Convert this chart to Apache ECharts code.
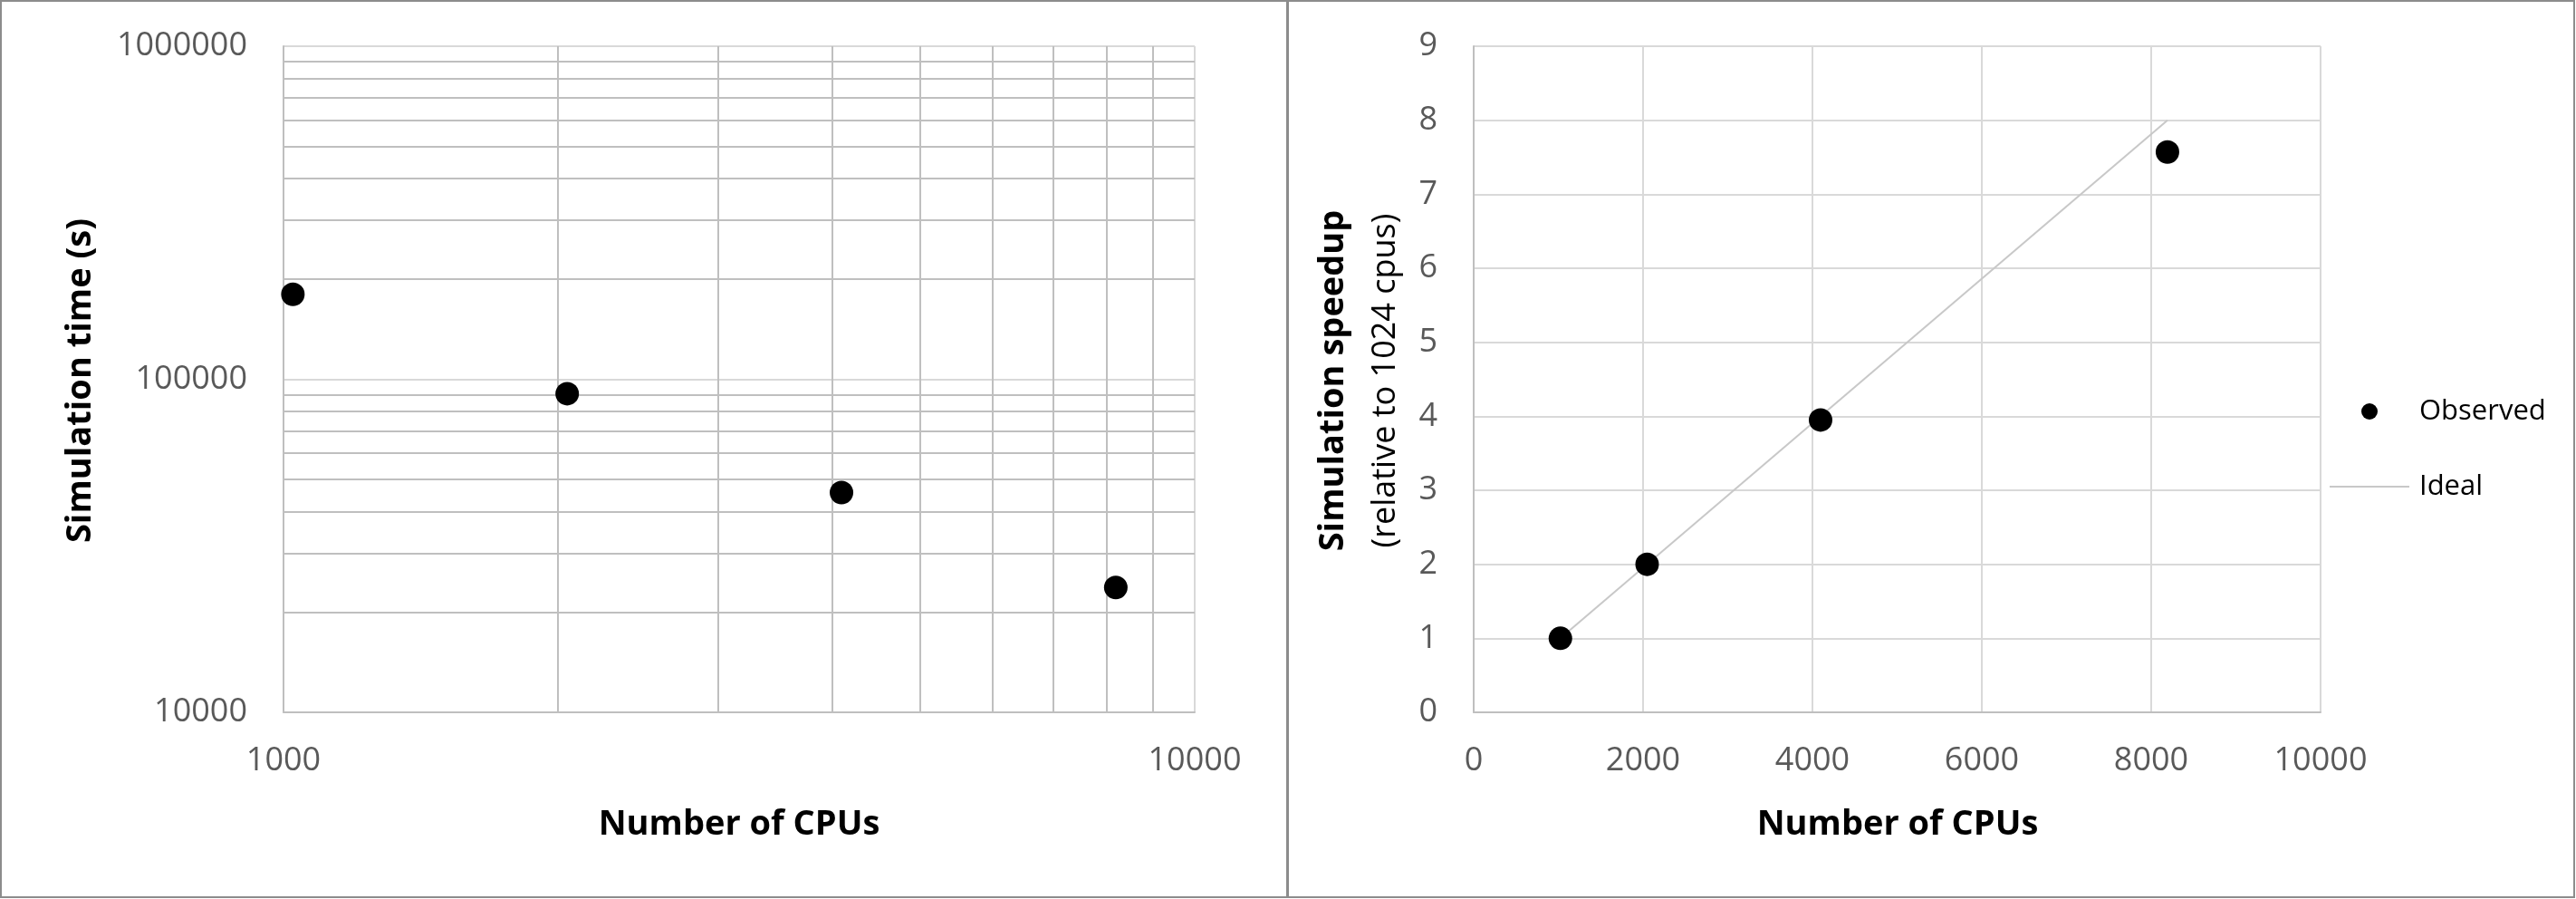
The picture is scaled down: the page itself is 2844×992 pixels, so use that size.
<!DOCTYPE html>
<html>
<head>
<meta charset="utf-8">
<script src="https://cdn.jsdelivr.net/npm/echarts@6/dist/echarts.min.js"></script>
<style>
html,body{margin:0;padding:0;background:#fff;}
#chart{width:2844px;height:992px;}
</style>
</head>
<body>
<div id="chart"></div>
<script>
// ---- data ----
const cpus = [1024, 2048, 4096, 8192];
const simTime = [180000, 90500, 45700, 23700];
const observedSpeedup = [1, 2.0, 3.95, 7.57];
const idealCpus = [1024, 8192];
const idealSpeedup = [1, 8];
// minor log gridline values (left panel)
const minorX = [2000, 3000, 4000, 5000, 6000, 7000, 8000, 9000];
const minorY = [20000, 30000, 40000, 50000, 60000, 70000, 80000, 90000,
                200000, 300000, 400000, 500000, 600000, 700000, 800000, 900000];

const FONT = '"Open Sans", "Noto Sans", sans-serif';
const tickLabel = {fontFamily: FONT, fontSize: 36, color: '#595959'};
const fmt = v => String(Math.round(v));

const chart = echarts.init(document.getElementById('chart'), null, {renderer: 'canvas'});

const minorLines = [];
minorX.forEach(v => minorLines.push({xAxis: v}));
minorY.forEach(v => minorLines.push({yAxis: v}));

const option = {
  animation: false,
  backgroundColor: '#fff',
  grid: [
    {left: 313, top: 51, width: 1006, height: 735, containLabel: false},
    {left: 1627, top: 51, width: 935, height: 735, containLabel: false}
  ],
  xAxis: [
    {
      gridIndex: 0, type: 'log', logBase: 10, min: 1000, max: 10000,
      axisLine: {show: true, lineStyle: {color: '#bfbfbf', width: 2}},
      axisTick: {show: false},
      axisLabel: Object.assign({margin: 36, formatter: fmt, showMinLabel: true, showMaxLabel: true}, tickLabel),
      splitLine: {show: true, lineStyle: {color: '#d9d9d9', width: 2}}
    },
    {
      gridIndex: 1, type: 'value', min: 0, max: 10000, interval: 2000,
      axisLine: {show: true, onZero: false, lineStyle: {color: '#bfbfbf', width: 2}},
      axisTick: {show: false},
      axisLabel: Object.assign({margin: 36, formatter: fmt, showMinLabel: true, showMaxLabel: true}, tickLabel),
      splitLine: {show: true, lineStyle: {color: '#d9d9d9', width: 2}}
    }
  ],
  yAxis: [
    {
      gridIndex: 0, type: 'log', logBase: 10, min: 10000, max: 1000000,
      axisLine: {show: true, lineStyle: {color: '#bfbfbf', width: 2}},
      axisTick: {show: false},
      axisLabel: Object.assign({margin: 40, formatter: fmt, showMinLabel: true, showMaxLabel: true}, tickLabel),
      splitLine: {show: true, lineStyle: {color: '#d9d9d9', width: 2}}
    },
    {
      gridIndex: 1, type: 'value', min: 0, max: 9, interval: 1,
      axisLine: {show: true, onZero: false, lineStyle: {color: '#bfbfbf', width: 2}},
      axisTick: {show: false},
      axisLabel: Object.assign({margin: 40, formatter: fmt, showMinLabel: true, showMaxLabel: true}, tickLabel),
      splitLine: {show: true, lineStyle: {color: '#d9d9d9', width: 2}}
    }
  ],
  legend: [
    {
      data: [{name: 'Observed', icon: 'circle', itemStyle: {color: '#000', opacity: 1}}],
      left: 2607, top: 434, padding: 0, orient: 'vertical',
      itemWidth: 18, itemHeight: 18,
      textStyle: {fontFamily: FONT, fontSize: 31, color: '#000', lineHeight: 40, padding: [0, 0, 0, 41]},
      selectedMode: false
    },
    {
      data: [{name: 'Ideal', icon: 'rect', itemStyle: {color: '#c8c8c8', opacity: 1}}],
      left: 2572, top: 517, padding: 0, orient: 'vertical',
      itemWidth: 88, itemHeight: 2,
      textStyle: {fontFamily: FONT, fontSize: 31, color: '#000', lineHeight: 40, padding: [0, 0, 0, 6]},
      selectedMode: false
    }
  ],
  series: [
    {
      name: 'minorGrid', type: 'scatter', xAxisIndex: 0, yAxisIndex: 0, data: [], z: 1,
      markLine: {
        silent: true, symbol: ['none', 'none'], animation: false,
        label: {show: false},
        lineStyle: {color: '#bfbfbf', width: 2, type: 'solid', opacity: 1},
        emphasis: {disabled: true},
        data: minorLines
      }
    },
    {
      name: 'Simulation time', type: 'scatter', xAxisIndex: 0, yAxisIndex: 0, z: 5,
      symbol: 'circle', symbolSize: 26,
      itemStyle: {color: '#000', opacity: 1},
      data: cpus.map((c, i) => [c, simTime[i]])
    },
    {
      name: 'Ideal', type: 'line', xAxisIndex: 1, yAxisIndex: 1, z: 3,
      symbol: 'none', showSymbol: false,
      lineStyle: {color: '#c8c8c8', width: 2},
      itemStyle: {color: '#c8c8c8'},
      data: idealCpus.map((c, i) => [c, idealSpeedup[i]])
    },
    {
      name: 'Observed', type: 'scatter', xAxisIndex: 1, yAxisIndex: 1, z: 5,
      symbol: 'circle', symbolSize: 26,
      itemStyle: {color: '#000', opacity: 1},
      data: cpus.map((c, i) => [c, observedSpeedup[i]])
    }
  ],
  graphic: [
    {type: 'rect', silent: true, shape: {x: 1, y: 1, width: 1420, height: 989},
     style: {fill: 'none', stroke: '#8c8c8c', lineWidth: 2}},
    {type: 'rect', silent: true, shape: {x: 1422, y: 1, width: 1420, height: 989},
     style: {fill: 'none', stroke: '#8c8c8c', lineWidth: 2}},
    {type: 'text', silent: true, x: 816, y: 910,
     style: {text: 'Number of CPUs', font: 'bold 38px ' + FONT, fill: '#000', textAlign: 'center', textVerticalAlign: 'middle'}},
    {type: 'text', silent: true, x: 2095, y: 910,
     style: {text: 'Number of CPUs', font: 'bold 38px ' + FONT, fill: '#000', textAlign: 'center', textVerticalAlign: 'middle'}},
    {type: 'text', silent: true, x: 89, y: 420, rotation: Math.PI / 2,
     style: {text: 'Simulation time (s)', font: 'bold 38px ' + FONT, fill: '#000', textAlign: 'center', textVerticalAlign: 'middle'}},
    {type: 'text', silent: true, x: 1472, y: 420, rotation: Math.PI / 2,
     style: {text: 'Simulation speedup', font: 'bold 38px ' + FONT, fill: '#000', textAlign: 'center', textVerticalAlign: 'middle'}},
    {type: 'text', silent: true, x: 1530, y: 420, rotation: Math.PI / 2,
     style: {text: '(relative to 1024 cpus)', font: '36px ' + FONT, fill: '#000', textAlign: 'center', textVerticalAlign: 'middle'}}
  ]
};
chart.setOption(option);
</script>
</body>
</html>
